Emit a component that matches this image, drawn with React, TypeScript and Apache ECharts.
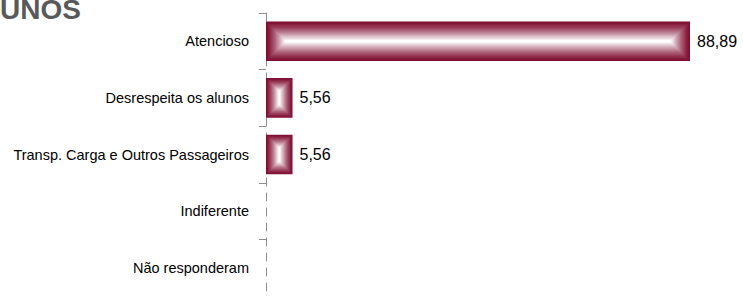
import React, { useEffect, useRef } from "react";
import * as echarts from "echarts";

const categories = [
  "Atencioso",
  "Desrespeita os alunos",
  "Transp. Carga e Outros Passageiros",
  "Indiferente",
  "Não responderam",
];
const values = [88.89, 5.56, 5.56, 0, 0];
const titleText = "UNOS";

function mix(a: number[], b: number[], t: number) {
  const c = a.map((v, i) => Math.round(v + (b[i] - v) * t));
  return `rgb(${c[0]},${c[1]},${c[2]})`;
}

export default function App() {
  const ref = useRef<HTMLDivElement>(null);
  useEffect(() => {
    if (!ref.current) return;
    const chart = echarts.init(ref.current, undefined, { renderer: "svg" });
    const outer = [128, 14, 50];
    const inner = [255, 255, 255];
    chart.setOption({
      animation: false,
      graphic: [
        {
          type: "text",
          left: 0,
          top: -5,
          style: {
            text: titleText,
            font: "bold 28px Liberation Sans, Arial, sans-serif",
            fill: "#595959",
          },
        },
      ],
      grid: { left: 266, top: 13, width: 479, height: 285, containLabel: false },
      xAxis: { type: "value", min: 0, max: 100, show: false },
      yAxis: {
        type: "category",
        data: categories,
        inverse: true,
        axisLine: { show: true, lineStyle: { color: "#8c8c8c", type: [8, 7], width: 1 } },
        axisTick: { show: true, length: 7, lineStyle: { color: "#8c8c8c" } },
        axisLabel: {
          color: "#000",
          fontSize: 14.5,
          fontFamily: "Liberation Sans, Arial, sans-serif",
          margin: 17,
        },
        splitLine: { show: false },
      },
      series: [
        {
          type: "custom",
          data: values.map((v, i) => [v, i]),
          encode: { x: 0, y: 1 },
          renderItem: (params: any, api: any) => {
            const v = api.value(0);
            const idx = api.value(1);
            const start = api.coord([0, idx]);
            const end = api.coord([v, idx]);
            const band = api.size([0, 1])[1];
            const h = band * 0.7;
            const x0 = start[0];
            const w = end[0] - start[0];
            const y0 = start[1] - h / 2;
            const children: any[] = [];
            if (w > 0) {
              const N = 16;
              const maxInset = Math.min(w, h) / 2;
              for (let k = 0; k < N; k++) {
                const inset = (maxInset * k) / N;
                const t = Math.pow(k / (N - 1), 1.3);
                children.push({
                  type: "rect",
                  shape: {
                    x: x0 + inset,
                    y: y0 + inset,
                    width: Math.max(w - 2 * inset, 0.8),
                    height: Math.max(h - 2 * inset, 0.8),
                  },
                  style: { fill: mix(outer, inner, t) },
                });
              }
              children.push({
                type: "text",
                x: end[0] + 7,
                y: start[1],
                style: {
                  text: v.toFixed(2).replace(".", ","),
                  font: "16px Liberation Sans, Arial, sans-serif",
                  fill: "#000",
                  verticalAlign: "middle",
                  align: "left",
                },
              });
            }
            return { type: "group", children };
          },
        },
      ],
    });
    return () => chart.dispose();
  }, []);
  return <div ref={ref} style={{ width: 743, height: 296, position: "absolute", left: 0, top: 0 }} />;
}
